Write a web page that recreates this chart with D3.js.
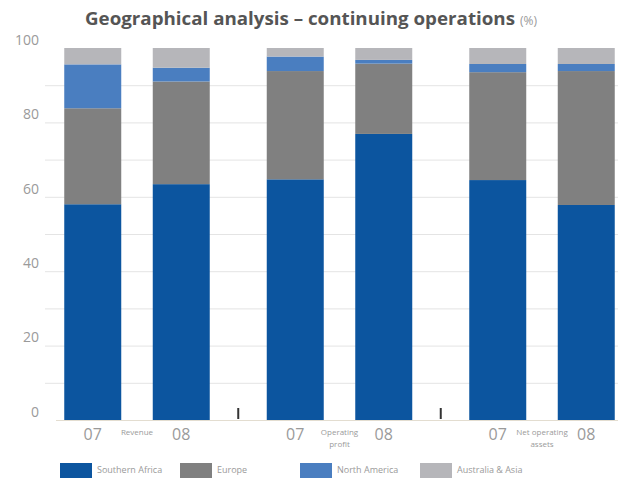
<!DOCTYPE html>
<html><head><meta charset="utf-8">
<script src="https://cdn.jsdelivr.net/npm/d3@7"></script>
<style>
html,body{margin:0;padding:0;background:#fff;}
svg{display:block;font-family:"Open Sans",sans-serif;}
</style></head>
<body>
<svg id="chart" width="618" height="483"></svg>
<script>
// ---- data ----
const groups = ["Revenue", "Operating profit", "Net operating assets"];
const groupLabelLines = [["Revenue"], ["Operating", "profit"], ["Net operating", "assets"]];
const years = ["07", "08"];
const seriesNames = ["Southern Africa", "Europe", "North America", "Australia & Asia"];
// one value per bar: Revenue 07, Revenue 08, Op profit 07, Op profit 08, NOA 07, NOA 08
const southernAfrica = [58.0, 63.4, 64.7, 76.9, 64.5, 57.8];
const europe         = [25.8, 27.6, 29.1, 18.9, 29.0, 36.0];
const northAmerica   = [11.8,  3.7,  3.9,  1.0,  2.2,  1.9];
const australiaAsia  = [ 4.4,  5.3,  2.3,  3.2,  4.3,  4.3];
const yTicks = [0, 20, 40, 60, 80, 100];
const gridValues = [10, 20, 30, 40, 50, 60, 70, 80, 90];
const colors = ["#0c559f", "#808080", "#4a7ec0", "#b6b6ba"];

// ---- build table ----
const seriesValues = [southernAfrica, europe, northAmerica, australiaAsia];
const rows = [];
groups.forEach((g, gi) => years.forEach((yr, yi) => {
  const idx = gi * years.length + yi;
  const r = {group: g, year: yr};
  seriesNames.forEach((s, si) => r[s] = seriesValues[si][idx]);
  rows.push(r);
}));
const stacked = d3.stack().keys(seriesNames)(rows);

const svg = d3.select("#chart");
const y = d3.scaleLinear().domain([0, 100]).range([420, 48]);
const gx = d3.scalePoint().domain(groups).range([137, 542]);
const ix = d3.scaleBand().domain(years).range([-72.75, 72.75]).paddingInner(0.356);
const color = d3.scaleOrdinal().domain(seriesNames).range(colors);

// title
const title = svg.append("text").attr("x", 85).attr("y", 25)
  .attr("fill", "#555").attr("font-size", 18).attr("font-weight", 700);
title.append("tspan").text("Geographical analysis \u2013 continuing operations")
  .attr("textLength", 430).attr("lengthAdjust", "spacingAndGlyphs");
title.append("tspan").attr("x", 520).text("(%)")
  .attr("font-size", 12).attr("font-weight", 400).attr("fill", "#999");

// gridlines
svg.append("g").selectAll("line").data(gridValues).join("line")
  .attr("x1", 45).attr("x2", 618)
  .attr("y1", d => y(d) + 0.5).attr("y2", d => y(d) + 0.5)
  .attr("stroke", "#e4e4e4").attr("stroke-width", 1);

// y labels
svg.append("g").selectAll("text").data(yTicks).join("text")
  .attr("x", 39).attr("y", d => y(d) - 7)
  .attr("text-anchor", "end").attr("dominant-baseline", "middle")
  .attr("font-size", 14).attr("fill", "#9a9a9a").text(d => d);

// baseline
svg.append("line").attr("x1", 56).attr("x2", 618)
  .attr("y1", y(0) + 0.5).attr("y2", y(0) + 0.5)
  .attr("stroke", "#e3ddd0").attr("stroke-width", 1);

// bars
svg.append("g").selectAll("g").data(stacked).join("g")
  .attr("fill", d => color(d.key))
  .selectAll("rect").data(d => d).join("rect")
  .attr("x", d => gx(d.data.group) + ix(d.data.year))
  .attr("width", ix.bandwidth())
  .attr("y", d => y(d[1]))
  .attr("height", d => y(d[0]) - y(d[1]));

// group separators (small dark ticks)
const sepX = groups.slice(1).map((g, i) => (gx(groups[i]) + gx(g)) / 2);
svg.append("g").selectAll("line").data(sepX).join("line")
  .attr("x1", d => d).attr("x2", d => d)
  .attr("y1", y(0) - 12).attr("y2", y(0) - 1)
  .attr("stroke", "#333").attr("stroke-width", 2);

// year labels
svg.append("g").selectAll("text").data(rows).join("text")
  .attr("x", d => gx(d.group) + ix(d.year) + ix.bandwidth() / 2)
  .attr("y", 436).attr("dominant-baseline", "middle")
  .attr("text-anchor", "middle").attr("font-size", 16).attr("fill", "#9a9a9a")
  .text(d => d.year);

// group labels
const gl = svg.append("g").selectAll("text").data(groups).join("text")
  .attr("text-anchor", "middle").attr("font-size", 8).attr("fill", "#9a9a9a");
gl.selectAll("tspan").data((d, i) => groupLabelLines[i].map(t => ({t, g: d}))).join("tspan")
  .attr("x", d => gx(d.g)).attr("y", (d, j) => 435 + j * 12).text(d => d.t);

// legend
const lx = d3.scalePoint().domain(seriesNames).range([60, 420]);
const leg = svg.append("g").selectAll("g").data(seriesNames).join("g")
  .attr("transform", d => `translate(${lx(d)},463)`);
leg.append("rect").attr("width", 32).attr("height", 15).attr("fill", d => color(d));
leg.append("text").attr("x", 37).attr("y", 8).attr("dominant-baseline", "middle")
  .attr("font-size", 9).attr("fill", "#9a9a9a").text(d => d);
</script>
</body></html>
